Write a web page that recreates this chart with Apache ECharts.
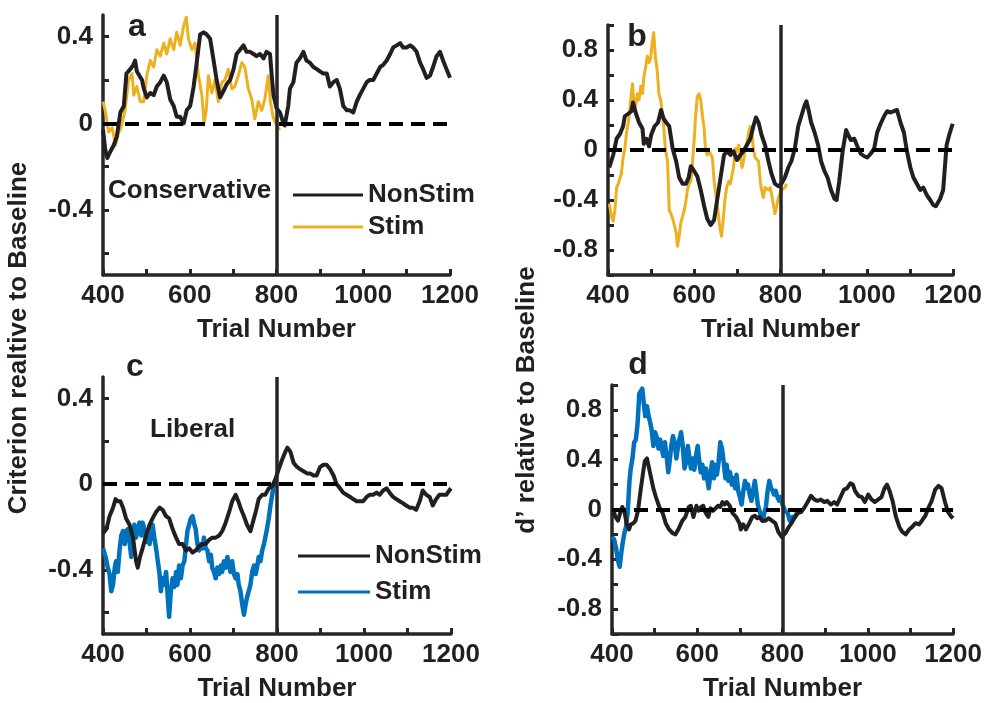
<!DOCTYPE html>
<html>
<head>
<meta charset="utf-8">
<script src="https://cdn.jsdelivr.net/npm/echarts@6/dist/echarts.min.js"></script>
<style>
html,body{margin:0;padding:0;background:#fff;}
#chart{width:985px;height:703px;}
</style>
</head>
<body>
<div id="chart"></div>
<script>
// ---------- tick definitions ----------
const xTicks = [400,500,600,700,800,900,1000,1100,1200];
const xLabels = [400,600,800,1000,1200];
const critTicks = [-0.6,-0.4,-0.2,0,0.2,0.4];
const critLabels = [-0.4,0,0.4];
const dTicks = [-1,-0.8,-0.6,-0.4,-0.2,0,0.2,0.4,0.6,0.8,1];
const dLabels = [-0.8,-0.4,0,0.4,0.8];

// ---------- panel a (Criterion, Conservative) ----------
const aNonT = [400,405,410,417,425,432,440,448,454,463,470,474,478,484,490,494,501,509,517,524,532,540,547,555,563,570,578,586,593,601,609,616,624,632,639,647,655,662,670,678,685,693,701,708,716,724,731,739,747,754,762,770,777,785,789,793,800,808,816,819,827,831,839,846,854,862,869,877,885,893,900,908,916,923,931,939,946,954,962,969,977,985,992,1000,1008,1015,1023,1031,1039,1046,1054,1062,1069,1077,1085,1092,1100,1108,1115,1123,1131,1138,1146,1154,1161,1169,1177,1184,1192,1200];
const aNonV = [-0.03,-0.12,-0.16,-0.13,-0.10,-0.06,0.05,0.08,0.23,0.25,0.27,0.29,0.24,0.22,0.20,0.16,0.12,0.14,0.13,0.17,0.19,0.22,0.19,0.11,0.08,0.03,0.03,0.00,0.06,0.08,0.17,0.28,0.41,0.42,0.41,0.39,0.29,0.20,0.12,0.15,0.18,0.20,0.25,0.32,0.34,0.36,0.33,0.33,0.32,0.31,0.32,0.30,0.33,0.32,0.22,0.13,0.07,0.05,0.00,-0.01,0.08,0.16,0.19,0.28,0.30,0.33,0.29,0.28,0.26,0.25,0.24,0.23,0.23,0.17,0.19,0.20,0.16,0.08,0.06,0.06,0.05,0.10,0.13,0.16,0.19,0.20,0.20,0.23,0.26,0.27,0.29,0.32,0.35,0.36,0.37,0.35,0.35,0.36,0.35,0.33,0.28,0.25,0.21,0.22,0.26,0.31,0.33,0.29,0.25,0.21];
const aStimT = [400,405,413,421,429,436,440,451,459,467,471,478,486,494,501,509,517,524,532,540,547,555,563,570,578,586,592,597,605,612,620,628,633,638,643,651,658,666,674,681,689,697,704,712,720,727,735,743,750,758,766,773,781,786,792,800,808];
const aStimV = [0.10,0.06,-0.04,-0.02,-0.10,-0.04,-0.03,0.06,0.20,0.23,0.13,0.17,0.10,0.10,0.22,0.29,0.26,0.34,0.31,0.37,0.32,0.39,0.34,0.42,0.36,0.45,0.49,0.39,0.34,0.37,0.22,0.13,0.00,0.06,0.22,0.14,0.20,0.10,0.19,0.20,0.25,0.16,0.17,0.22,0.28,0.26,0.16,0.11,0.02,0.10,0.06,0.11,0.22,0.10,0.03,-0.01,-0.03];

// ---------- panel b (d', Conservative) ----------
const bNonT = [403,412,420,428,435,439,447,454,458,464,472,480,483,489,495,500,508,516,523,529,535,542,550,558,565,573,581,587,592,600,607,615,623,630,638,646,653,661,669,676,684,691,699,707,714,722,730,737,743,749,756,764,772,779,787,795,802,810,818,825,833,841,848,856,860,865,871,879,887,894,902,909,917,925,930,936,944,952,957,963,971,978,986,994,1001,1009,1017,1024,1032,1040,1047,1055,1062,1070,1078,1086,1093,1101,1108,1116,1124,1131,1139,1147,1154,1160,1170,1177,1181,1185,1191,1199];
const bNonV = [-0.14,-0.04,0.09,0.13,0.19,0.27,0.29,0.31,0.38,0.30,0.22,0.17,0.05,0.09,0.03,0.12,0.19,0.22,0.32,0.25,0.22,0.19,0.01,-0.09,-0.22,-0.27,-0.27,-0.22,-0.13,-0.17,-0.21,-0.32,-0.45,-0.55,-0.60,-0.56,-0.40,-0.22,-0.04,-0.01,-0.04,-0.01,-0.08,-0.04,-0.01,0.04,0.09,0.19,0.26,0.22,0.12,0.04,-0.09,-0.19,-0.27,-0.29,-0.27,-0.22,-0.14,-0.09,0.01,0.19,0.27,0.36,0.39,0.32,0.22,0.14,0.04,-0.09,-0.17,-0.22,-0.32,-0.39,-0.40,-0.25,-0.01,0.16,0.12,0.08,0.09,0.03,-0.03,-0.05,-0.06,-0.03,0.01,0.14,0.21,0.27,0.31,0.30,0.31,0.32,0.22,0.14,-0.01,-0.14,-0.22,-0.27,-0.32,-0.30,-0.36,-0.40,-0.44,-0.45,-0.39,-0.32,-0.14,0.04,0.12,0.21];
const bStimT = [403,408,412,416,420,424,428,431,435,439,443,447,450,454,457,460,464,468,472,476,480,483,487,491,495,499,503,506,510,514,518,522,525,529,533,538,542,546,550,554,558,561,565,569,573,577,581,584,588,592,596,600,603,607,611,615,619,623,626,630,634,642,646,653,659,663,667,671,675,680,684,688,691,695,699,703,707,711,714,718,722,726,730,734,737,741,749,753,756,760,764,768,772,776,779,783,787,791,795,802,810,814];
const bStimV = [-0.43,-0.53,-0.57,-0.48,-0.30,-0.27,-0.22,-0.19,-0.06,0.01,0.14,0.22,0.30,0.45,0.53,0.38,0.35,0.45,0.40,0.51,0.45,0.58,0.66,0.75,0.70,0.74,0.87,0.94,0.74,0.64,0.45,0.40,0.32,0.19,0.01,-0.09,-0.48,-0.51,-0.55,-0.56,-0.66,-0.77,-0.69,-0.58,-0.53,-0.48,-0.40,-0.32,-0.27,-0.25,-0.09,0.09,0.27,0.43,0.45,0.40,0.27,0.17,0.01,-0.04,-0.01,-0.06,-0.25,-0.43,-0.61,-0.69,-0.56,-0.40,-0.30,-0.25,-0.27,-0.19,-0.14,0.01,-0.01,0.04,-0.06,-0.14,-0.09,0.01,0.06,0.14,0.19,0.12,0.01,-0.06,-0.09,-0.25,-0.32,-0.38,-0.30,-0.30,-0.32,-0.30,-0.35,-0.43,-0.51,-0.45,-0.38,-0.32,-0.30,-0.27];

// ---------- panel c (Criterion, Liberal) ----------
const cNonT = [400,408,415,423,429,434,440,446,453,461,469,476,480,485,491,499,507,514,522,530,537,545,552,560,568,575,583,591,598,606,613,621,629,636,644,651,659,667,674,682,690,697,705,711,716,724,731,739,743,751,758,766,773,781,789,796,804,811,819,824,831,838,846,853,861,869,876,884,891,899,907,914,922,930,937,945,952,960,968,975,983,991,998,1006,1013,1021,1029,1036,1044,1052,1059,1067,1074,1082,1090,1097,1105,1112,1120,1128,1135,1143,1151,1158,1166,1173,1181,1189,1196,1200];
const cNonV = [-0.23,-0.21,-0.15,-0.11,-0.07,-0.08,-0.08,-0.11,-0.16,-0.19,-0.25,-0.36,-0.39,-0.34,-0.30,-0.24,-0.19,-0.16,-0.13,-0.11,-0.12,-0.15,-0.16,-0.21,-0.25,-0.28,-0.28,-0.31,-0.30,-0.32,-0.31,-0.29,-0.28,-0.28,-0.26,-0.25,-0.25,-0.24,-0.22,-0.18,-0.13,-0.08,-0.05,-0.08,-0.11,-0.15,-0.19,-0.22,-0.19,-0.13,-0.07,-0.05,-0.05,-0.02,-0.01,0.02,0.07,0.11,0.15,0.17,0.15,0.10,0.08,0.07,0.06,0.05,0.05,0.04,0.04,0.08,0.09,0.09,0.07,0.04,0.00,-0.02,-0.04,-0.05,-0.06,-0.07,-0.08,-0.08,-0.08,-0.06,-0.05,-0.05,-0.04,-0.05,-0.03,-0.02,-0.04,-0.06,-0.07,-0.08,-0.09,-0.10,-0.11,-0.11,-0.12,-0.08,-0.03,-0.05,-0.06,-0.10,-0.07,-0.05,-0.05,-0.05,-0.03,-0.02];
const cStimT = [400,406,411,415,419,423,427,430,434,438,442,446,450,453,457,461,465,469,472,476,480,484,488,491,495,499,503,507,510,514,518,522,526,530,533,537,541,545,549,552,556,560,564,568,571,575,579,583,587,591,594,598,602,606,610,613,617,621,625,629,632,636,640,644,648,651,655,659,663,667,671,674,678,682,686,690,693,697,701,705,709,712,716,720,724,728,731,735,739,743,747,751,754,758,762,766,770,773,777,781,785,789,792,796,800];
const cStimV = [-0.30,-0.34,-0.39,-0.42,-0.50,-0.47,-0.39,-0.36,-0.41,-0.31,-0.24,-0.22,-0.28,-0.22,-0.21,-0.27,-0.34,-0.25,-0.19,-0.25,-0.21,-0.18,-0.24,-0.18,-0.21,-0.27,-0.24,-0.28,-0.24,-0.19,-0.25,-0.30,-0.36,-0.42,-0.50,-0.44,-0.47,-0.41,-0.53,-0.62,-0.50,-0.44,-0.48,-0.41,-0.47,-0.38,-0.44,-0.38,-0.36,-0.28,-0.22,-0.19,-0.16,-0.15,-0.19,-0.21,-0.28,-0.31,-0.28,-0.30,-0.25,-0.30,-0.31,-0.36,-0.33,-0.39,-0.41,-0.44,-0.39,-0.42,-0.38,-0.41,-0.36,-0.39,-0.34,-0.38,-0.41,-0.36,-0.42,-0.44,-0.42,-0.47,-0.50,-0.56,-0.61,-0.56,-0.53,-0.50,-0.47,-0.41,-0.38,-0.42,-0.39,-0.34,-0.36,-0.31,-0.28,-0.25,-0.21,-0.16,-0.10,-0.05,-0.01,0.02,0.02];

// ---------- panel d (d', Liberal) ----------
const dNonT = [404,408,414,419,424,429,434,440,444,450,455,461,467,473,477,482,487,492,497,503,511,519,526,534,542,549,557,565,572,580,585,591,598,603,609,614,620,626,631,637,643,649,654,659,664,669,676,683,691,699,702,708,714,722,729,735,741,746,752,760,767,775,783,790,798,802,807,813,821,829,836,844,852,859,867,875,882,890,898,905,913,921,928,936,944,951,959,965,970,978,986,993,1001,1009,1016,1024,1032,1039,1045,1051,1058,1066,1074,1081,1089,1097,1104,1112,1120,1127,1135,1143,1150,1158,1166,1173,1181,1188,1194,1200];
const dNonV = [-0.01,-0.06,-0.09,-0.03,0.02,-0.01,-0.11,-0.16,-0.12,-0.11,-0.09,-0.01,0.15,0.30,0.39,0.41,0.33,0.25,0.17,0.10,0.02,-0.03,-0.11,-0.16,-0.19,-0.20,-0.15,-0.09,-0.06,0.02,0.03,-0.06,0.03,-0.01,0.02,0.03,-0.03,-0.06,0.01,-0.01,0.01,0.03,0.02,0.06,0.04,0.06,0.03,-0.03,-0.06,-0.11,-0.16,-0.12,-0.16,-0.11,-0.06,-0.05,-0.07,-0.06,-0.09,-0.09,-0.07,-0.09,-0.11,-0.18,-0.22,-0.23,-0.19,-0.15,-0.11,-0.06,-0.03,-0.02,0.02,0.06,0.11,0.08,0.07,0.08,0.06,0.07,0.04,0.06,0.04,0.10,0.16,0.17,0.21,0.20,0.15,0.11,0.10,0.06,0.12,0.08,0.06,0.08,0.10,0.17,0.20,0.15,0.07,-0.06,-0.14,-0.18,-0.20,-0.16,-0.14,-0.11,-0.12,-0.09,-0.05,0.02,0.07,0.16,0.19,0.17,0.06,-0.02,-0.05,-0.07];
const dStimT = [400,405,410,414,418,421,425,429,433,437,441,444,448,452,456,460,464,467,471,475,478,482,486,490,493,497,501,505,509,513,516,520,524,528,532,535,539,543,547,551,555,558,562,566,570,574,578,581,585,589,593,597,601,604,608,612,616,620,624,627,631,635,639,643,646,650,654,658,662,666,669,673,677,681,685,689,692,696,700,704,708,712,715,719,723,727,731,735,738,742,746,750,754,757,761,765,769,773,777,780,784,788,792,796,800,806,812,817,823,829,836];
const dStimV = [-0.22,-0.24,-0.32,-0.41,-0.46,-0.37,-0.27,-0.19,-0.14,-0.01,0.23,0.33,0.41,0.54,0.56,0.69,0.93,0.94,0.97,0.84,0.75,0.83,0.75,0.69,0.64,0.51,0.62,0.58,0.49,0.56,0.51,0.43,0.54,0.43,0.30,0.38,0.51,0.59,0.54,0.41,0.51,0.56,0.62,0.51,0.33,0.38,0.51,0.43,0.33,0.41,0.32,0.43,0.51,0.41,0.30,0.36,0.25,0.33,0.23,0.17,0.30,0.38,0.25,0.36,0.28,0.38,0.54,0.49,0.38,0.25,0.36,0.23,0.30,0.20,0.25,0.17,0.28,0.15,0.10,0.04,0.15,0.23,0.17,0.20,0.12,0.07,0.15,0.23,0.15,0.04,-0.01,-0.06,-0.09,-0.03,0.02,0.15,0.23,0.17,0.15,0.12,0.15,0.10,0.07,0.10,0.04,-0.01,-0.03,-0.09,-0.06,-0.06,-0.01];

// ---------- styling ----------
const FONT = '"Liberation Sans", Arial, Helvetica, sans-serif';
const TXT = '#231f20';
const AX = '#262626';
const BLACK = '#231f20';
const YELLOW = '#EDB120';
const BLUE = '#0072BD';

function pair(t, v) { return t.map((x, i) => [x, v[i]]); }
function fmt(v) { return v === 0 ? '0' : v.toFixed(1); }

function xAxisCfg(g) {
  return {
    type: 'value', gridIndex: g, min: 400, max: 1200,
    name: 'Trial Number', nameLocation: 'middle', nameGap: 42,
    nameTextStyle: { fontFamily: FONT, fontWeight: 'bold', fontSize: 26, color: TXT },
    axisLine: { show: true, onZero: false, lineStyle: { color: AX, width: 3.5 } },
    axisTick: { show: true, inside: true, length: 6, lineStyle: { color: AX, width: 3 }, customValues: xTicks },
    axisLabel: { customValues: xLabels, formatter: v => String(v), fontFamily: FONT, fontWeight: 'bold', fontSize: 26, color: TXT, margin: 8 },
    splitLine: { show: false }
  };
}
function yAxisCfg(g, min, max, ticks, labels) {
  return {
    type: 'value', gridIndex: g, min: min, max: max,
    axisLine: { show: true, onZero: false, lineStyle: { color: AX, width: 3.5 } },
    axisTick: { show: true, inside: true, length: 6, lineStyle: { color: AX, width: 3 }, customValues: ticks },
    axisLabel: { customValues: labels, formatter: fmt, fontFamily: FONT, fontWeight: 'bold', fontSize: 26, color: TXT, margin: 10 },
    splitLine: { show: false }
  };
}
function refLines() {
  return {
    silent: true, symbol: 'none', label: { show: false },
    data: [
      { yAxis: 0, lineStyle: { type: [14, 8], width: 4, color: '#000' } },
      { xAxis: 800, lineStyle: { type: 'solid', width: 3.5, color: AX } }
    ]
  };
}
function lineSeries(name, g, data, color, width, withRef) {
  const s = {
    name: name, type: 'line', xAxisIndex: g, yAxisIndex: g, data: data,
    showSymbol: false, symbol: 'none', smooth: false,
    lineStyle: { color: color, width: width, join: 'round' },
    itemStyle: { color: color }, emphasis: { disabled: true }, animation: false
  };
  if (withRef) s.markLine = refLines();
  return s;
}

const option = {
  animation: false,
  backgroundColor: '#fff',
  grid: [
    { left: 103, top: 15, width: 347, height: 260 },
    { left: 608, top: 25, width: 349, height: 250 },
    { left: 103, top: 377, width: 348, height: 259 },
    { left: 612, top: 385, width: 348, height: 251 }
  ],
  xAxis: [xAxisCfg(0), xAxisCfg(1), xAxisCfg(2), xAxisCfg(3)],
  yAxis: [
    yAxisCfg(0, -0.7, 0.5, critTicks, critLabels),
    yAxisCfg(1, -1, 1, dTicks, dLabels),
    yAxisCfg(2, -0.7, 0.5, critTicks, critLabels),
    yAxisCfg(3, -1, 1, dTicks, dLabels)
  ],
  legend: [
    {
      data: ['NonStim_a', 'Stim_a'], left: 288, top: 176, orient: 'vertical',
      itemWidth: 70, itemHeight: 3, itemGap: 4, icon: 'rect', selectedMode: false,
      formatter: n => n.split('_')[0],
      textStyle: { fontFamily: FONT, fontWeight: 'bold', fontSize: 26, color: TXT, lineHeight: 28 }
    },
    {
      data: ['NonStim_c', 'Stim_c'], left: 293, top: 537, orient: 'vertical',
      itemWidth: 72, itemHeight: 3, itemGap: 8, icon: 'rect', selectedMode: false,
      formatter: n => n.split('_')[0],
      textStyle: { fontFamily: FONT, fontWeight: 'bold', fontSize: 26, color: TXT, lineHeight: 28 }
    }
  ],
  series: [
    lineSeries('Stim_a', 0, pair(aStimT, aStimV), YELLOW, 3, false),
    lineSeries('NonStim_a', 0, pair(aNonT, aNonV), BLACK, 4, true),
    lineSeries('Stim_b', 1, pair(bStimT, bStimV), YELLOW, 3, false),
    lineSeries('NonStim_b', 1, pair(bNonT, bNonV), BLACK, 4, true),
    lineSeries('Stim_c', 2, pair(cStimT, cStimV), BLUE, 4.5, false),
    lineSeries('NonStim_c', 2, pair(cNonT, cNonV), BLACK, 4, true),
    lineSeries('Stim_d', 3, pair(dStimT, dStimV), BLUE, 4.5, false),
    lineSeries('NonStim_d', 3, pair(dNonT, dNonV), BLACK, 4, true)
  ],
  graphic: [
    { type: 'text', x: 137, y: 43, style: { text: 'a', font: 'bold 32px ' + FONT, fill: TXT, textAlign: 'center', textVerticalAlign: 'bottom' } },
    { type: 'text', x: 637, y: 53, style: { text: 'b', font: 'bold 32px ' + FONT, fill: TXT, textAlign: 'center', textVerticalAlign: 'bottom' } },
    { type: 'text', x: 135, y: 383, style: { text: 'c', font: 'bold 32px ' + FONT, fill: TXT, textAlign: 'center', textVerticalAlign: 'bottom' } },
    { type: 'text', x: 638, y: 381, style: { text: 'd', font: 'bold 32px ' + FONT, fill: TXT, textAlign: 'center', textVerticalAlign: 'bottom' } },
    { type: 'text', x: 108, y: 191, style: { text: 'Conservative', font: 'bold 26px ' + FONT, fill: TXT, textAlign: 'left', textVerticalAlign: 'middle' } },
    { type: 'text', x: 150, y: 430, style: { text: 'Liberal', font: 'bold 26px ' + FONT, fill: TXT, textAlign: 'left', textVerticalAlign: 'middle' } },
    { type: 'text', x: 19, y: 338, rotation: Math.PI / 2, style: { text: 'Criterion realtive to Baseline', font: 'bold 26px ' + FONT, fill: TXT, textAlign: 'center', textVerticalAlign: 'middle' } },
    { type: 'text', x: 527, y: 400, rotation: Math.PI / 2, style: { text: 'd\u2019 relative to Baseline', font: 'bold 26px ' + FONT, fill: TXT, textAlign: 'center', textVerticalAlign: 'middle' } }
  ]
};

const chart = echarts.init(document.getElementById('chart'), null, { renderer: 'canvas' });
chart.setOption(option);
</script>
</body>
</html>
